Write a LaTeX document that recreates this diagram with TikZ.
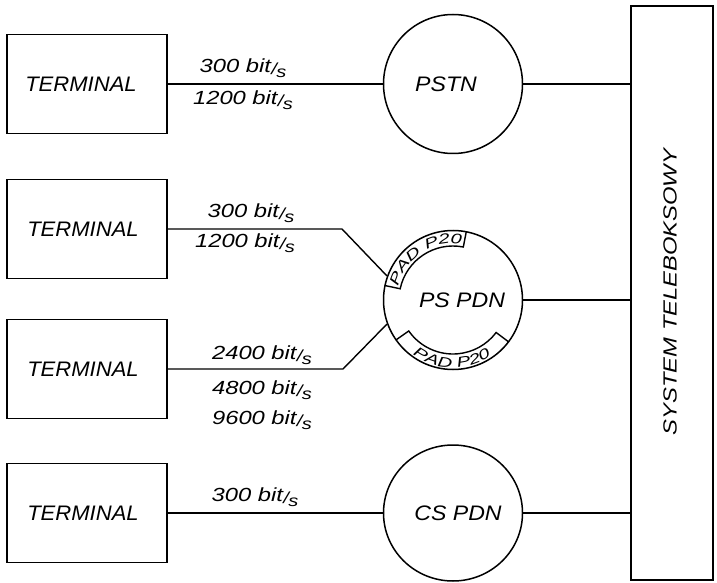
\documentclass[tikz,border=0pt]{standalone}
\usepackage{fontspec}
\setmainfont{Liberation Sans}
\newfontfamily\padfont[FakeStretch=1.45]{Liberation Sans}
\usetikzlibrary{decorations.text,calc,shapes.geometric}
\newcommand\bitps{bit\kern0.3pt\raisebox{-0.25ex}{\fontsize{16}{16}\selectfont/\kern-0.5pt\raisebox{-0.35ex}{s}}}
\newcommand\wider[2]{\scalebox{#1}[1]{#2}}
\tikzset{
  term/.style={draw,line width=1.6pt,minimum width=160pt,minimum height=99pt,inner sep=0pt,font=\fontsize{21}{21}\selectfont\itshape},
  net/.style={draw,circle,line width=1.5pt,minimum size=139pt,inner sep=0pt,font=\fontsize{21}{21}\selectfont\itshape},
  conn/.style={line width=1.4pt},
  rate/.style={inner sep=0pt,font=\fontsize{19}{19}\selectfont\itshape},
  band/.style={line width=1.4pt},
}
\begin{document}
\begin{tikzpicture}[x=1pt,y=1pt]
\useasboundingbox (0,0) rectangle (717,582);
% terminals
\node[term] (t1) at (87,498) {\hspace*{-12pt}\wider{1.05}{TERMINAL}};
\node[term] (t2) at (87,353) {\hspace*{-8pt}\wider{1.05}{TERMINAL}};
\node[term] (t3) at (87,213) {\hspace*{-8pt}\wider{1.05}{TERMINAL}};
\node[term] (t4) at (87,69) {\hspace*{-8pt}\wider{1.05}{TERMINAL}};
% networks
\node[net] (pstn) at (453,498) {\hspace*{-14pt}\wider{1.1}{PSTN}};
\node[net] (ps) at (453,282) {\hspace*{18pt}\wider{1.1}{PS PDN}};
\node[draw,ellipse,line width=1.5pt,minimum width=139pt,minimum height=136pt,inner sep=0pt,font=\fontsize{21}{21}\selectfont\itshape] (cs) at (453,69) {\hspace*{10pt}\wider{1.1}{CS\ PDN}};
% system
\node[draw,line width=1.6pt,minimum width=82pt,minimum height=574pt,inner sep=0pt] (sys) at (672,289) {};
\node[rotate=90,inner sep=0pt,font=\fontsize{19}{19}\selectfont\itshape] (systxt) at (670,290) {\wider{1.25}{SYSTEM TELEBOKSOWY}};
% connectors
\coordinate (k2) at (342,353);
\coordinate (k3) at (343,213);
\draw[conn] (t1.east) -- (pstn.west);
\draw[conn] (t2.east) -- (k2) -- (ps.160);
\draw[conn] (t3.east) -- (k3) -- (ps.200);
\draw[conn] (t4.east) -- (cs.west);
\draw[conn] (pstn.east) -- (pstn.east -| sys.west);
\draw[conn] (ps.east) -- (ps.east -| sys.west);
\draw[conn] (cs.east) -- (cs.east -| sys.west);
% rates
\node[rate] (r1a) at (243,514) {\wider{1.25}{300 \bitps}};
\node[rate] (r1b) at (243,482) {\wider{1.25}{1200 \bitps}};
\node[rate] (r2a) at (251,369) {\wider{1.25}{300 \bitps}};
\node[rate] (r2b) at (245,339) {\wider{1.25}{1200 \bitps}};
\node[rate] (r3a) at (262,227) {\wider{1.25}{2400 \bitps}};
\node[rate] (r3b) at (262,192) {\wider{1.25}{4800 \bitps}};
\node[rate] (r3c) at (262,162) {\wider{1.25}{9600 \bitps}};
\node[rate] (r4a) at (255,85) {\wider{1.25}{300 \bitps}};
% PAD bands
\begin{scope}[shift={(ps.center)}]
\draw[band] (168:70) -- (168:54) arc[start angle=168,end angle=79,radius=54] -- (79:70);
\draw[band] (215:70) -- (215:54) arc[start angle=215,end angle=323,radius=54] -- (323:70);
\path[decorate,decoration={text along path,text align=center,text={|\fontsize{14}{14}\padfont\itshape|PAD P20}}]
  (168:56.5) arc[start angle=168,end angle=79,radius=56.5];
\path[decorate,decoration={text along path,text align=center,text={|\fontsize{14}{14}\padfont\itshape|PAD P20}}]
  (215:67.5) arc[start angle=215,end angle=323,radius=67.5];
\end{scope}
\end{tikzpicture}
\end{document}
